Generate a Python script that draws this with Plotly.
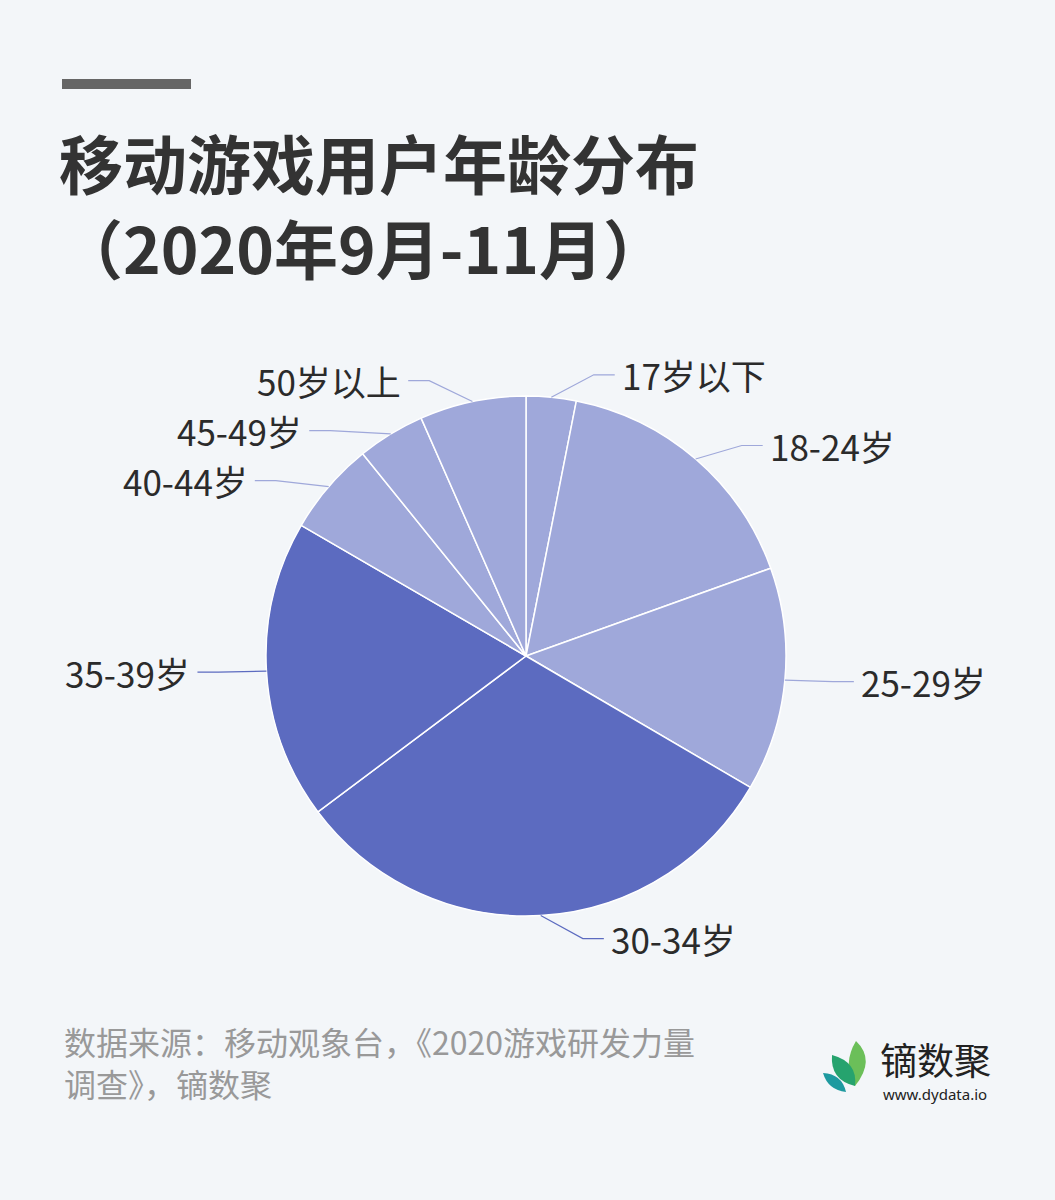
import math
import plotly.graph_objects as go

# ---------------- data ----------------
age_groups = ["17岁以下", "18-24岁", "25-29岁", "30-34岁", "35-39岁", "40-44岁", "45-49岁", "50岁以上"]
shares = [3.1, 16.4, 13.9, 31.3, 18.6, 5.8, 4.2, 6.6]
slice_colors = ["#9FA8DA", "#9FA8DA", "#9FA8DA", "#5C6BC0", "#5C6BC0", "#9FA8DA", "#9FA8DA", "#9FA8DA"]

title_line1 = "移动游戏用户年龄分布"
title_line2 = "（2020年9月-11月）"
source_line1 = "数据来源：移动观象台，《2020游戏研发力量"
source_line2 = "调查》，镝数聚"
brand_name = "镝数聚"
brand_url = "www.dydata.io"

# ---------------- layout geometry (pixels) ----------------
W, H = 1055, 1200
CX, CY, R = 526, 656, 260
BG = "#F3F6F9"
FONT = "Noto Sans CJK SC"


def px(x):
    return x / W


def py(y):
    return 1 - y / H


fig = go.Figure()
fig.add_trace(go.Pie(
    labels=age_groups,
    values=shares,
    sort=False,
    direction="clockwise",
    rotation=0,
    textinfo="none",
    hoverinfo="label+percent",
    marker=dict(colors=slice_colors, line=dict(color="white", width=1.5)),
    domain=dict(x=[px(CX - R), px(CX + R)], y=[py(CY + R), py(CY - R)]),
    showlegend=False,
))

# ---------------- leader lines + labels computed from the data ----------------
L1, L2, GAP, MIN_SEP = 48, 21, 5, 50
total = sum(shares)
cum = 0.0
items = []
for lab, v, col in zip(age_groups, shares, slice_colors):
    a0 = cum / total * 360
    cum += v
    a1 = cum / total * 360
    mid = math.radians((a0 + a1) / 2)
    s, c = math.sin(mid), math.cos(mid)
    sx, sy = CX + R * s, CY - R * c
    side = 1 if s >= 0 else -1
    elev = 0.33 * math.atan2(c, abs(s))
    ex = sx + side * L1 * math.cos(elev)
    ey = sy - L1 * math.sin(elev)
    items.append(dict(lab=lab, col=col, sx=sx, sy=sy, ex=ex, ey=ey, side=side))

for side in (1, -1):
    grp = sorted([it for it in items if it["side"] == side], key=lambda d: d["ey"])
    for i in range(1, len(grp)):
        if grp[i]["ey"] < grp[i - 1]["ey"] + MIN_SEP:
            shift = grp[i - 1]["ey"] + MIN_SEP - grp[i]["ey"]
            grp[i]["ey"] += shift
            grp[i]["ex"] += side * shift * 1.2

shapes = []
annotations = []
for it in items:
    hx = it["ex"] + it["side"] * L2
    path = "M {:.5f},{:.5f} L {:.5f},{:.5f} L {:.5f},{:.5f}".format(
        px(it["sx"]), py(it["sy"]), px(it["ex"]), py(it["ey"]), px(hx), py(it["ey"]))
    shapes.append(dict(type="path", xref="paper", yref="paper", path=path,
                       line=dict(color=it["col"], width=1.2)))
    annotations.append(dict(
        x=px(hx + it["side"] * GAP), y=py(it["ey"]), xref="paper", yref="paper",
        text=it["lab"], showarrow=False,
        xanchor="left" if it["side"] > 0 else "right", yanchor="middle",
        font=dict(family=FONT, size=35, color="#2b2b2b")))

# ---------------- title & decorations ----------------
shapes.append(dict(type="rect", xref="paper", yref="paper",
                   x0=px(62), x1=px(191), y0=py(89), y1=py(79),
                   fillcolor="#666666", line=dict(width=0)))

annotations.append(dict(x=px(57), y=py(161), xref="paper", yref="paper", text=title_line1,
                        showarrow=False, xanchor="left", yanchor="middle",
                        font=dict(family=FONT, size=64, color="#333333", weight=700)))
annotations.append(dict(x=px(57), y=py(246), xref="paper", yref="paper", text=title_line2,
                        showarrow=False, xanchor="left", yanchor="middle",
                        font=dict(family=FONT, size=64, color="#333333", weight=700)))

annotations.append(dict(x=px(62), y=py(1062), xref="paper", yref="paper",
                        text=source_line1 + "<br>" + source_line2,
                        showarrow=False, xanchor="left", yanchor="middle", align="left",
                        font=dict(family=FONT, size=32, color="#999999")))

# logo leaves
def leaf(points_px, color):
    (x0, y0), (c1x, c1y), (x1, y1), (c2x, c2y) = points_px
    path = "M {},{} Q {},{} {},{} Q {},{} {},{} Z".format(
        px(x0), py(y0), px(c1x), py(c1y), px(x1), py(y1), px(c2x), py(c2y), px(x0), py(y0))
    return dict(type="path", xref="paper", yref="paper", path=path,
                fillcolor=color, line=dict(width=0))

shapes.append(leaf([(855, 1086), (876, 1060), (856, 1041), (842, 1064)], "#6BBF59"))
shapes.append(leaf([(855, 1086), (858, 1062), (832, 1055), (830, 1080)], "#26A36E"))
shapes.append(leaf([(846, 1092), (842, 1074), (823, 1073), (828, 1090)], "#1E9AA0"))

annotations.append(dict(x=px(878), y=py(1059), xref="paper", yref="paper", text=brand_name,
                        showarrow=False, xanchor="left", yanchor="middle",
                        font=dict(family=FONT, size=37, color="#222222")))
annotations.append(dict(x=px(881), y=py(1094), xref="paper", yref="paper", text=brand_url,
                        showarrow=False, xanchor="left", yanchor="middle",
                        font=dict(family="Noto Sans", size=15, color="#222222")))

fig.update_layout(
    width=W, height=H,
    margin=dict(l=0, r=0, t=0, b=0),
    paper_bgcolor=BG, plot_bgcolor=BG,
    shapes=shapes, annotations=annotations,
    showlegend=False,
)

fig.write_html(
    "out.html",
    config={"displayModeBar": False},
    post_script="document.body.style.margin='0';document.body.style.background='%s';" % BG,
)
